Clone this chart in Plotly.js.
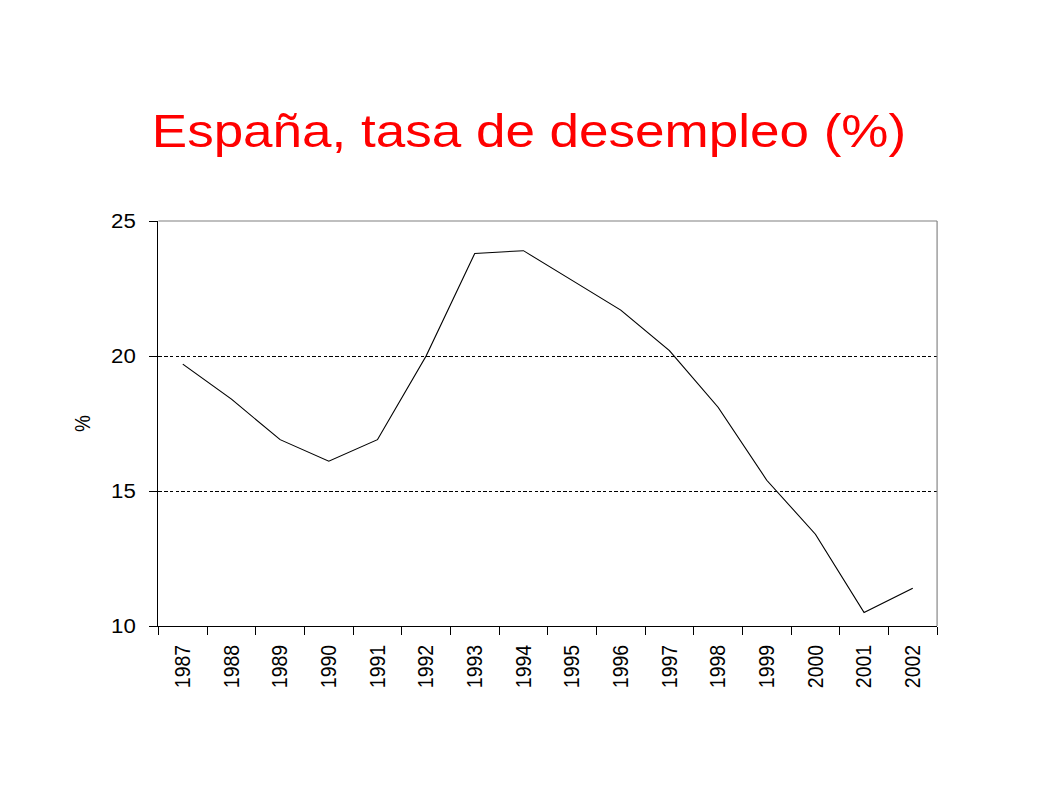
<!DOCTYPE html>
<html>
<head>
<meta charset="utf-8">
<script src="https://cdn.plot.ly/plotly-3.0.1.min.js"></script>
<style>
html, body { margin: 0; padding: 0; background: #fff; overflow: hidden; }
#wrap { width: 1058px; height: 793px; overflow: hidden; }
#chart { width: 928px; height: 793px; transform: scaleX(1.14); transform-origin: 0 0; }
</style>
</head>
<body>
<div id="wrap"><div id="chart"></div></div>
<script>
const years = ["1987","1988","1989","1990","1991","1992","1993","1994","1995","1996","1997","1998","1999","2000","2001","2002"];
const unemploymentRate = [19.7, 18.4, 16.9, 16.1, 16.9, 20.0, 23.8, 23.9, 22.8, 21.7, 20.2, 18.1, 15.4, 13.4, 10.5, 11.4];
const chartTitle = "España, tasa de desempleo (%)";
const yTitle = "%";

const font = "Arial, 'Liberation Sans', sans-serif";

const trace = {
  type: "scatter",
  mode: "lines",
  x: years,
  y: unemploymentRate,
  line: { color: "#000000", width: 1 },
  hoverinfo: "x+y"
};

const layout = {
  width: 928,
  height: 793,
  margin: { l: 139, r: 106, t: 221, b: 167 },
  paper_bgcolor: "#ffffff",
  plot_bgcolor: "#ffffff",
  showlegend: false,
  title: {
    text: chartTitle,
    font: { family: font, size: 46.5, color: "#ff0000" },
    x: 0.5, xanchor: "center",
    xref: "container", yref: "container",
    y: 1 - 131 / 793, yanchor: "middle"
  },
  xaxis: {
    type: "category",
    range: [-0.5, years.length - 0.5],
    tickson: "boundaries",
    ticks: "outside",
    ticklen: 8,
    tickcolor: "#000000",
    tickwidth: 1,
    tickangle: -90,
    ticklabelstandoff: 10,
    tickfont: { family: font, size: 19.5, color: "#000000" },
    showline: true,
    linecolor: "#000000",
    linewidth: 1,
    showgrid: false,
    zeroline: false,
    fixedrange: true
  },
  yaxis: {
    range: [10, 25],
    dtick: 5,
    tick0: 10,
    ticks: "outside",
    ticklen: 7,
    tickcolor: "#000000",
    tickwidth: 1,
    ticklabelstandoff: 8,
    tickfont: { family: font, size: 19.5, color: "#000000" },
    showline: true,
    linecolor: "#000000",
    linewidth: 1,
    showgrid: true,
    gridcolor: "#000000",
    gridwidth: 1,
    griddash: "3px,2px",
    zeroline: false,
    fixedrange: true,
    title: { text: yTitle, font: { family: font, size: 19, color: "#000000" }, standoff: 12 }
  },
  shapes: [
    { type: "line", xref: "paper", yref: "paper", x0: 0, x1: 1, y0: 1, y1: 1, line: { color: "#808080", width: 1 }, layer: "above" },
    { type: "line", xref: "paper", yref: "paper", x0: 1, x1: 1, y0: 0, y1: 1, line: { color: "#808080", width: 1 }, layer: "above" }
  ]
};

Plotly.newPlot("chart", [trace], layout, { displayModeBar: false, staticPlot: true });
</script>
</body>
</html>
